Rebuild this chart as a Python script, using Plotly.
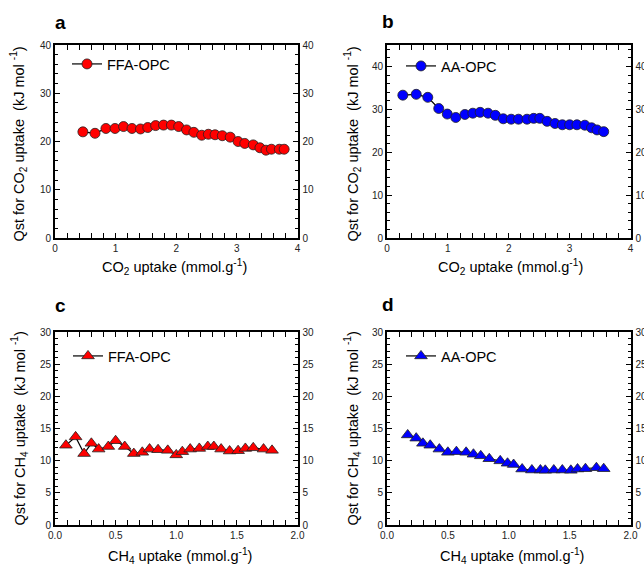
import plotly.graph_objects as go

# ---------------- data ----------------
a_x = [0.46, 0.66, 0.84, 0.99, 1.13, 1.27, 1.41, 1.53, 1.66, 1.79, 1.92, 2.04, 2.17, 2.29,
       2.42, 2.53, 2.64, 2.76, 2.89, 3.02, 3.13, 3.27, 3.38, 3.48, 3.57, 3.70, 3.78]
a_y = [22.0, 21.7, 22.7, 22.7, 23.1, 22.7, 22.6, 22.9, 23.3, 23.4, 23.4, 23.1, 22.4, 21.9,
       21.3, 21.5, 21.4, 21.2, 20.9, 20.0, 19.6, 19.3, 18.7, 18.2, 18.4, 18.4, 18.4]

b_x = [0.26, 0.48, 0.67, 0.85, 0.99, 1.13, 1.28, 1.41, 1.53, 1.66, 1.78, 1.91, 2.04, 2.16,
       2.30, 2.41, 2.51, 2.63, 2.76, 2.88, 3.00, 3.12, 3.25, 3.36, 3.45, 3.56]
b_y = [33.3, 33.5, 32.8, 30.2, 28.9, 28.1, 28.8, 29.1, 29.3, 29.1, 28.6, 27.8, 27.7, 27.7,
       27.7, 27.9, 27.9, 27.2, 26.7, 26.4, 26.4, 26.4, 26.3, 25.7, 25.2, 24.8]

c_x = [0.09, 0.17, 0.24, 0.30, 0.36, 0.44, 0.50, 0.575, 0.65, 0.72, 0.78, 0.85, 0.93, 1.00,
       1.05, 1.115, 1.19, 1.26, 1.31, 1.37, 1.44, 1.51, 1.57, 1.635, 1.72, 1.79]
c_y = [12.4, 13.7, 11.1, 12.7, 11.8, 12.2, 13.1, 12.2, 11.1, 11.3, 11.8, 11.7, 11.6, 10.9,
       11.4, 11.8, 11.9, 12.2, 12.2, 11.8, 11.5, 11.55, 11.9, 12.0, 11.8, 11.6]

d_x = [0.17, 0.24, 0.295, 0.355, 0.43, 0.50, 0.57, 0.65, 0.71, 0.77, 0.84, 0.93, 0.99, 1.04,
       1.11, 1.19, 1.26, 1.30, 1.37, 1.44, 1.51, 1.565, 1.63, 1.72, 1.78]
d_y = [14.0, 13.5, 12.7, 12.4, 11.8, 11.3, 11.4, 11.3, 11.0, 10.75, 10.3, 9.97, 9.6, 9.4,
       8.7, 8.55, 8.55, 8.5, 8.55, 8.55, 8.5, 8.7, 8.75, 8.9, 8.75]

series_names = ["FFA-OPC", "AA-OPC", "FFA-OPC", "AA-OPC"]
panel_letters = ["a", "b", "c", "d"]

# ---------------- layout helpers ----------------
W, H = 644, 566
FONT = "Liberation Sans, Arial, sans-serif"

def px_x(p):
    return p / W

def px_y(p):
    return 1 - p / H

dom_x = {1: [px_x(55), px_x(297.5)], 2: [px_x(387), px_x(630.5)],
         3: [px_x(55), px_x(297.5)], 4: [px_x(387), px_x(630.5)]}
dom_y = {1: [px_y(238), px_y(45)], 2: [px_y(238), px_y(45)],
         3: [px_y(525), px_y(332)], 4: [px_y(525), px_y(332)]}

xr = {1: ([0, 4], 1, 0.2, None), 2: ([0, 4], 1, 0.2, None),
      3: ([0, 2], 0.5, 0.1, ".1f"), 4: ([0, 2], 0.5, 0.1, ".1f")}
yr = {1: ([0, 40], 10, 2), 2: ([0, 45], 10, 2), 3: ([0, 30], 5, 1), 4: ([0, 30], 5, 1)}

fig = go.Figure()

datasets = [(a_x, a_y, "circle", "#ff0000", 10), (b_x, b_y, "circle", "#0000ff", 10),
            (c_x, c_y, "triangle-up", "#ff0000", 11), (d_x, d_y, "triangle-up", "#0000ff", 11)]

for i, (xs, ys, sym, col, sz) in enumerate(datasets, start=1):
    xname = f"x{i}" if i > 1 else "x"
    fig.add_trace(go.Scatter(
        x=xs, y=ys, mode="lines+markers", name=series_names[i - 1],
        xaxis=xname, yaxis=f"y{i}" if i > 1 else "y",
        line=dict(color="black", width=1.2),
        marker=dict(symbol=sym, size=sz, color=col, line=dict(color="#222222", width=0.8)),
        legend="legend" if i == 1 else f"legend{i}",
        showlegend=True,
    ))
    # invisible companion on the right-hand axis so its labels get drawn
    fig.add_trace(go.Scatter(
        x=xs, y=ys, mode="markers", xaxis=xname, yaxis=f"y{i + 4}",
        marker=dict(opacity=0, size=1), showlegend=False, hoverinfo="skip",
    ))

tickfont = dict(family=FONT, size=10, color="#222222")
lay = dict(width=W, height=H, autosize=False, margin=dict(l=0, r=0, t=0, b=0),
           paper_bgcolor="white", plot_bgcolor="white", font=dict(family=FONT))

for i in range(1, 5):
    rng, dt, mdt, fmt = xr[i]
    xa = dict(domain=dom_x[i], range=rng, dtick=dt, tick0=0, anchor=f"y{i}" if i > 1 else "y",
              showline=True, linecolor="black", linewidth=1.8, mirror="allticks",
              ticks="inside", ticklen=5, tickwidth=1, tickcolor="black",
              minor=dict(dtick=mdt, ticks="inside", ticklen=3, tickwidth=1, tickcolor="black", showgrid=False),
              showgrid=False, zeroline=False, tickfont=tickfont, automargin=False)
    if fmt:
        xa["tickformat"] = fmt
    yrng, ydt, ymdt = yr[i]
    ya = dict(domain=dom_y[i], range=yrng, dtick=ydt, tick0=0, anchor=f"x{i}" if i > 1 else "x",
              showline=True, linecolor="black", linewidth=1.8, mirror="allticks",
              ticks="inside", ticklen=5, tickwidth=1, tickcolor="black",
              minor=dict(dtick=ymdt, ticks="inside", ticklen=3, tickwidth=1, tickcolor="black", showgrid=False),
              showgrid=False, zeroline=False, tickfont=tickfont, automargin=False)
    lay["xaxis" if i == 1 else f"xaxis{i}"] = xa
    lay["yaxis" if i == 1 else f"yaxis{i}"] = ya
    # right-hand labels
    lay[f"yaxis{i + 4}"] = dict(overlaying="y" if i == 1 else f"y{i}", side="right",
                                anchor=f"x{i}" if i > 1 else "x", range=yrng, dtick=ydt, tick0=0,
                                showline=False, ticks="", showgrid=False, zeroline=False,
                                showticklabels=True, ticklabelstandoff=4,
                                tickfont=tickfont, automargin=False)

# legends
leg_pos = {1: (67, 64), 2: (401, 66), 3: (68, 356), 4: (401, 356)}
for i in range(1, 5):
    key = "legend" if i == 1 else f"legend{i}"
    lx, ly = leg_pos[i]
    lay[key] = dict(x=px_x(lx), y=px_y(ly), xanchor="left", yanchor="middle",
                    bgcolor="rgba(0,0,0,0)", borderwidth=0,
                    font=dict(family=FONT, size=14.5, color="black"), itemwidth=30)

fig.update_layout(**lay)

# axis titles and panel letters as annotations
ann = []
ytitles = {1: "Qst for CO<sub>2</sub> uptake&nbsp;&nbsp;(kJ mol <sup>-1</sup>)",
           2: "Qst for CO<sub>2</sub> uptake&nbsp;&nbsp;(kJ mol <sup>-1</sup>)",
           3: "Qst for CH<sub>4</sub> uptake&nbsp;&nbsp;(kJ mol <sup>-1</sup>)",
           4: "Qst for CH<sub>4</sub> uptake&nbsp;&nbsp;(kJ mol <sup>-1</sup>)"}
xtitles = {1: "CO<sub>2</sub> uptake (mmol.g<sup>-1</sup>)", 2: "CO<sub>2</sub> uptake (mmol.g<sup>-1</sup>)",
           3: "CH<sub>4</sub> uptake (mmol.g<sup>-1</sup>)", 4: "CH<sub>4</sub> uptake (mmol.g<sup>-1</sup>)"}
ytpos = {1: (18, 144.5), 2: (352, 144.5), 3: (19, 428.5), 4: (352, 428.5)}
xtpos = {1: (174, 267), 2: (510, 267), 3: (180, 556), 4: (512, 556)}
letpos = {1: (60, 22), 2: (388, 21), 3: (60, 305), 4: (388, 304)}
for i in range(1, 5):
    x0, y0 = ytpos[i]
    ann.append(dict(text=ytitles[i], x=px_x(x0), y=px_y(y0), xref="paper", yref="paper",
                    textangle=-90, showarrow=False, xanchor="center", yanchor="middle",
                    font=dict(family=FONT, size=14.5, color="black")))
    x0, y0 = xtpos[i]
    ann.append(dict(text=xtitles[i], x=px_x(x0), y=px_y(y0), xref="paper", yref="paper",
                    showarrow=False, xanchor="center", yanchor="middle",
                    font=dict(family=FONT, size=14.5, color="black")))
    x0, y0 = letpos[i]
    ann.append(dict(text=f"<b>{panel_letters[i - 1]}</b>", x=px_x(x0), y=px_y(y0), xref="paper", yref="paper",
                    showarrow=False, xanchor="center", yanchor="middle",
                    font=dict(family=FONT, size=19, color="black")))
fig.update_layout(annotations=ann)

fig.write_html("out.html")
